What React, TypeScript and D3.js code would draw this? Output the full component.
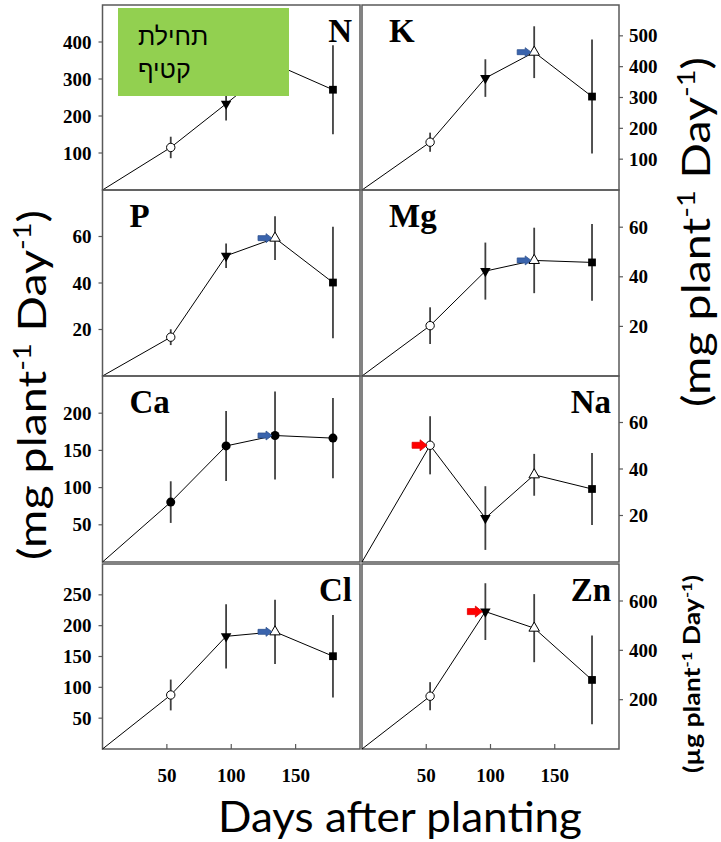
import * as d3 from 'd3';
import React from 'react';

// days after planting for the four samplings
const days = [53, 96, 134, 179];

const nutrients = ['N', 'K', 'P', 'Mg', 'Ca', 'Na', 'Cl', 'Zn'];

const nMean = [115, 233, 340, 271];
const nErr = [29, 45, 60, 120];
const kMean = [155, 363, 447, 303];
const kErr = [31, 61, 84, 185];
const pMean = [16.7, 51.7, 59.3, 40.2];
const pErr = [3.4, 5.3, 9.4, 24];
const mgMean = [20.3, 42.3, 46.6, 45.8];
const mgErr = [7.4, 11.5, 13.2, 15.5];
const caMean = [80.5, 156, 170, 166.5];
const caErr = [28, 47, 59, 54];
const naMean = [50.2, 18.9, 37.5, 31.4];
const naErr = [12.5, 13.7, 9, 15.5];
const clMean = [87.6, 182.7, 190, 150.5];
const clErr = [25, 52, 52, 67];
const znMean = [214, 557, 490, 280];
const znErr = [57, 115, 138, 180];

const yMax = [500, 600, 80, 75, 250, 80, 300, 750];
const yTicks = [
  [100, 200, 300, 400],
  [100, 200, 300, 400, 500],
  [20, 40, 60],
  [20, 40, 60],
  [50, 100, 150, 200],
  [20, 40, 60],
  [50, 100, 150, 200, 250],
  [200, 400, 600],
];
const xTicks = [50, 100, 150];

// which sampling carries the arrow (-1: none)
const arrowAt = [-1, 2, 2, 2, 2, 0, 2, 1];
const arrowKind = ['', 'blue', 'blue', 'blue', 'blue', 'red', 'blue', 'red'];
const labelSide = ['end', 'start', 'start', 'start', 'start', 'end', 'end', 'end'];

const means = [nMean, kMean, pMean, mgMean, caMean, naMean, clMean, znMean];
const errs = [nErr, kErr, pErr, mgErr, caErr, naErr, clErr, znErr];

const colX = [[102.5, 360], [362, 619]];
const rowY = [[5, 190], [190, 376], [376, 562], [564, 749]];

const serif = '"Liberation Serif", "Times New Roman", serif';
const sans = 'Lato, "Open Sans", sans-serif';

const markerShapes = ['circle', 'down', 'up', 'square'];

function Marker({ x, y, shape }) {
  if (shape === 'dot') {
    return <circle cx={x} cy={y} r={4.5} fill="#000" />;
  }
  if (shape === 'circle') {
    return <circle cx={x} cy={y} r={4.2} fill="#fff" stroke="#000" strokeWidth={1} />;
  }
  if (shape === 'square') {
    const p = d3.symbol().type(d3.symbolSquare).size(60)();
    return <path d={p} transform={`translate(${x},${y})`} fill="#000" />;
  }
  const p = d3.symbol().type(d3.symbolTriangle).size(48)();
  if (shape === 'down') {
    return <path d={p} transform={`translate(${x},${y}) rotate(180)`} fill="#000" />;
  }
  return <path d={p} transform={`translate(${x},${y})`} fill="#fff" stroke="#000" strokeWidth={1} />;
}

function Arrow({ x, y, kind }) {
  const red = kind === 'red';
  const L = red ? 15 : 14;
  const h = red ? 11 : 9;
  const s = red ? 6 : 5;
  const hl = red ? 7 : 6;
  const d = [
    [x - L, y - s / 2],
    [x - hl, y - s / 2],
    [x - hl, y - h / 2],
    [x, y],
    [x - hl, y + h / 2],
    [x - hl, y + s / 2],
    [x - L, y + s / 2],
  ];
  return (
    <path
      d={d3.line()(d) + 'Z'}
      fill={red ? '#ff0000' : '#3a64ad'}
      stroke={red ? '#e00000' : '#2f528f'}
      strokeWidth={0.8}
    />
  );
}

function Panel({ i }) {
  const col = i % 2;
  const row = Math.floor(i / 2);
  const [x0, x1] = colX[col];
  const [y0, y1] = rowY[row];
  const x = d3.scaleLinear().domain([0, 200]).range([x0, x1]);
  const y = d3.scaleLinear().domain([0, yMax[i]]).range([y1, y0]);
  const mean = means[i];
  const err = errs[i];
  const pts = [[0, 0], ...days.map((d, j) => [d, mean[j]])];
  const line = d3
    .line()
    .x(d => x(d[0]))
    .y(d => y(d[1]));
  const isLeft = col === 0;
  const bottom = row === 3;
  const a = arrowAt[i];

  return (
    <g>
      <rect x={x0} y={y0} width={x1 - x0} height={y1 - y0} fill="none" stroke="#595959" strokeWidth={1.5} />
      {yTicks[i].map(t => (
        <g key={t}>
          <line
            x1={isLeft ? x0 : x1}
            x2={isLeft ? x0 - 4 : x1 + 4}
            y1={y(t)}
            y2={y(t)}
            stroke="#595959"
            strokeWidth={1.2}
          />
          <text
            x={isLeft ? x0 - 11 : x1 + 10}
            y={y(t)}
            dy="0.35em"
            textAnchor={isLeft ? 'end' : 'start'}
            fontFamily={serif}
            fontWeight="bold"
            fontSize={19}
          >
            {t}
          </text>
        </g>
      ))}
      {bottom &&
        xTicks.map(t => (
          <g key={'x' + t}>
            <line x1={x(t)} x2={x(t)} y1={y1} y2={y1 - 5} stroke="#595959" strokeWidth={1.2} />
            <text
              x={x(t)}
              y={y1 + 33}
              textAnchor="middle"
              fontFamily={serif}
              fontWeight="bold"
              fontSize={19}
            >
              {t}
            </text>
          </g>
        ))}
      <path d={line(pts)} fill="none" stroke="#000" strokeWidth={1} />
      {days.map((d, j) => (
        <line
          key={'e' + j}
          x1={x(d)}
          x2={x(d)}
          y1={y(mean[j] - err[j])}
          y2={y(mean[j] + err[j])}
          stroke="#404040"
          strokeWidth={1.8}
        />
      ))}
      {days.map((d, j) => (
        <Marker key={'m' + j} x={x(d)} y={y(mean[j])} shape={i === 4 ? 'dot' : markerShapes[j]} />
      ))}
      {a >= 0 && <Arrow x={x(days[a]) - 3} y={y(mean[a])} kind={arrowKind[i]} />}
      <text
        x={labelSide[i] === 'end' ? x1 - 8 : x0 + 27}
        y={y0 + 37}
        textAnchor={labelSide[i]}
        fontFamily={serif}
        fontWeight="bold"
        fontSize={33}
      >
        {nutrients[i]}
      </text>
    </g>
  );
}

function UnitLabel({ x, y, unit, size, bold, length }) {
  const up = size * 0.38;
  return (
    <text
      transform={`translate(${x},${y}) rotate(-90)`}
      textAnchor="middle"
      fontFamily={sans}
      fontWeight={bold ? 'bold' : 'normal'}
      fontSize={size}
      textLength={length}
      lengthAdjust="spacingAndGlyphs"
    >
      <tspan>{'(' + unit + ' plant'}</tspan>
      <tspan dy={-up} fontSize={size * 0.62}>-1</tspan>
      <tspan dy={up}>{' Day'}</tspan>
      <tspan dy={-up} fontSize={size * 0.62}>-1</tspan>
      <tspan dy={up}>)</tspan>
    </text>
  );
}

export default function App() {
  return (
    <div style={{ position: 'absolute', left: 0, top: 0 }}>
      <svg width={721} height={842} style={{ display: 'block', background: '#fff' }}>
        {nutrients.map((n, i) => (
          <Panel key={n} i={i} />
        ))}
        <rect x={118} y={8} width={171} height={88} fill="#92d050" />
        <text x={138} y={45} fontFamily='"Liberation Sans", "DejaVu Sans", sans-serif' fontSize={25}>
          תחילת
        </text>
        <text x={138} y={78} fontFamily='"Liberation Sans", "DejaVu Sans", sans-serif' fontSize={25}>
          קטיף
        </text>
        <UnitLabel x={46} y={385} unit="mg" size={39} length={350} />
        <UnitLabel x={710} y={232} unit="mg" size={39} length={350} />
        <UnitLabel x={700} y={674} unit="µg" size={22} bold length={198} />
        <text x={400} y={832} textAnchor="middle" fontFamily={sans} fontSize={42} textLength={364} lengthAdjust="spacingAndGlyphs">
          Days after planting
        </text>
      </svg>
    </div>
  );
}
